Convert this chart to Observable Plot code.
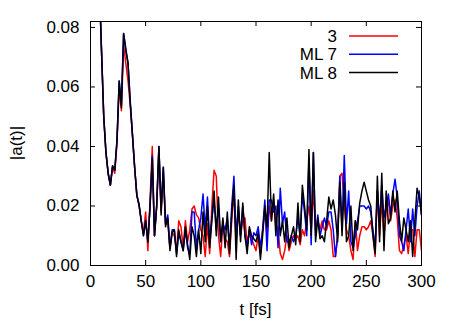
<!DOCTYPE html>
<html><head><meta charset="utf-8">
<script src="https://cdn.jsdelivr.net/npm/d3@7"></script>
<script src="https://cdn.jsdelivr.net/npm/@observablehq/plot@0.6"></script>
<style>body{margin:0;background:#fff;font-family:"Liberation Sans",Arial,sans-serif}</style>
</head><body><div id="chart"></div>
<script>
const tStart = 8, tStep = 2;
const seriesNames = ["3", "ML 7", "ML 8"];
const seriesColors = ["#ff0000", "#0000ff", "#000000"];
const xTicks = [0, 50, 100, 150, 200, 250, 300];
const yTicks = [0, 0.02, 0.04, 0.06, 0.08];

const red = [
0.095,0.072,0.050,0.038,0.031,0.027,0.033,0.031,0.041,0.060,
0.052,0.074,0.068,0.062,0.054,0.044,0.033,0.024,0.020,0.015,
0.011,0.018,0.005,0.022,0.040,0.010,0.020,0.039,0.018,0.031,
0.014,0.015,0.006,0.011,0.010,0.005,0.015,0.013,0.006,0.015,
0.008,0.012,0.019,0.020,0.017,0.016,0.012,0.010,0.003,0.014,
0.004,0.020,0.032,0.030,0.010,0.003,0.014,0.009,0.008,0.003,
0.015,0.025,0.008,0.018,0.010,0.015,0.016,0.007,0.012,0.009,
0.007,0.005,0.010,0.004,0.012,0.018,0.010,0.020,0.015,0.022,
0.014,0.012,0.004,0.002,0.005,0.010,0.005,0.008,0.010,0.009,
0.010,0.007,0.012,0.010,0.015,0.020,0.012,0.025,0.012,0.015,
0.012,0.015,0.012,0.012,0.015,0.012,0.003,0.003,0.010,0.030,
0.031,0.020,0.012,0.010,0.005,0.002,0.015,0.005,0.010,0.013,
0.013,0.012,0.013,0.015,0.010,0.003,0.025,0.010,0.022,0.010,
0.018,0.022,0.015,0.020,0.022,0.016,0.005,0.004,0.007,0.010,
0.004,0.012,0.012,0.003,0.012,0.012,0.005];

const blue = [
0.095,0.072,0.050,0.038,0.031,0.027,0.0335,0.032,0.042,0.062,
0.054,0.078,0.072,0.068,0.055,0.044,0.033,0.0235,0.0205,0.015,
0.010,0.015,0.008,0.020,0.037,0.010,0.020,0.040,0.019,0.033,
0.014,0.017,0.006,0.012,0.012,0.004,0.011,0.008,0.005,0.012,
0.006,0.004,0.018,0.018,0.006,0.012,0.016,0.024,0.012,0.023,
0.008,0.016,0.022,0.012,0.020,0.008,0.014,0.012,0.016,0.006,
0.020,0.030,0.010,0.020,0.010,0.020,0.010,0.006,0.012,0.007,
0.011,0.010,0.013,0.006,0.012,0.022,0.005,0.022,0.022,0.018,
0.020,0.006,0.026,0.014,0.018,0.008,0.008,0.010,0.008,0.010,
0.016,0.010,0.024,0.018,0.010,0.036,0.007,0.038,0.010,0.017,
0.010,0.013,0.016,0.013,0.018,0.018,0.012,0.003,0.010,0.030,
0.012,0.037,0.014,0.025,0.008,0.006,0.010,0.015,0.020,0.020,
0.020,0.019,0.020,0.018,0.012,0.006,0.025,0.015,0.027,0.016,
0.020,0.024,0.017,0.024,0.029,0.023,0.010,0.008,0.005,0.012,
0.019,0.008,0.019,0.010,0.020,0.025,0.017];

const black = [
0.095,0.072,0.050,0.038,0.031,0.027,0.0335,0.032,0.042,0.062,
0.053,0.078,0.073,0.068,0.055,0.044,0.033,0.0235,0.0205,0.015,
0.010,0.015,0.008,0.020,0.036,0.010,0.020,0.040,0.017,0.033,
0.013,0.016,0.005,0.011,0.012,0.003,0.012,0.008,0.005,0.013,
0.007,0.002,0.013,0.010,0.003,0.012,0.004,0.018,0.008,0.020,
0.006,0.015,0.025,0.010,0.023,0.008,0.016,0.006,0.018,0.004,
0.017,0.027,0.002,0.022,0.008,0.021,0.010,0.004,0.013,0.010,
0.009,0.008,0.011,0.002,0.010,0.020,0.013,0.038,0.015,0.024,
0.010,0.022,0.010,0.015,0.008,0.016,0.006,0.010,0.013,0.007,
0.021,0.008,0.027,0.020,0.012,0.039,0.010,0.038,0.008,0.016,
0.009,0.010,0.008,0.015,0.023,0.019,0.022,0.017,0.008,0.028,
0.010,0.028,0.008,0.010,0.020,0.005,0.015,0.012,0.021,0.025,
0.028,0.025,0.022,0.020,0.010,0.004,0.030,0.008,0.031,0.005,
0.025,0.014,0.016,0.025,0.018,0.025,0.015,0.008,0.016,0.012,
0.008,0.015,0.003,0.015,0.026,0.023,0.017];

const allSeries = [red, blue, black];
const data = [];
allSeries.forEach((arr, s) => arr.forEach((v, i) => data.push({t: tStart + i * tStep, v, s: seriesNames[s]})));

const W = 463, H = 324, mL = 90, mR = 42, mT = 21, mB = 59;
const fw = W - mL - mR, fh = H - mT - mB, tk = 5;
const font = "Liberation Sans, Arial, sans-serif";
const fs = 17;

const plot = Plot.plot({
  width: W, height: H,
  marginLeft: mL, marginRight: mR, marginTop: mT, marginBottom: mB,
  style: {fontFamily: font, fontSize: fs + "px", color: "#000", background: "#fff"},
  x: {domain: [0, 300]},
  y: {domain: [0, 0.082]},
  color: {domain: seriesNames, range: seriesColors},
  marks: [
    Plot.ruleX(xTicks, {x: d => d, insetTop: fh - tk, stroke: "#000"}),
    Plot.ruleX(xTicks, {x: d => d, insetBottom: fh - tk, stroke: "#000"}),
    Plot.ruleY(yTicks, {y: d => d, insetRight: fw - tk, stroke: "#000"}),
    Plot.ruleY(yTicks, {y: d => d, insetLeft: fw - tk, stroke: "#000"}),
    Plot.axisX(xTicks, {tickSize: 0, tickPadding: 9, label: null, fontSize: fs}),
    Plot.axisY(yTicks, {tickSize: 0, tickPadding: 11, label: null, tickFormat: d3.format(".2f"), fontSize: fs}),
    Plot.line(data, {x: "t", y: "v", z: "s", stroke: "s", strokeWidth: 1.5, clip: true}),
    Plot.frame({stroke: "#000", strokeWidth: 1})
  ]
});

const svg = d3.select(plot);
svg.append("text").attr("x", mL + fw / 2).attr("y", 315).attr("text-anchor", "middle")
  .attr("font-family", font).attr("font-size", fs).text("t [fs]");
svg.append("text").attr("transform", `translate(22,${mT + fh / 2}) rotate(-90)`).attr("text-anchor", "middle")
  .attr("font-family", font).attr("font-size", fs).text("|a(t)|");
const lg = svg.append("g");
seriesNames.forEach((name, i) => {
  const y = 36 + i * 18.3;
  lg.append("text").attr("x", 337).attr("y", y).attr("dy", "0.35em").attr("text-anchor", "end")
    .attr("font-family", font).attr("font-size", fs).text(name);
  lg.append("line").attr("x1", 349).attr("x2", 398).attr("y1", y).attr("y2", y)
    .attr("stroke", seriesColors[i]).attr("stroke-width", 1.5);
});
document.getElementById("chart").appendChild(plot);
</script></body></html>
